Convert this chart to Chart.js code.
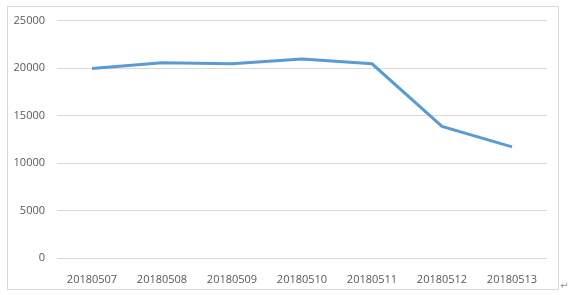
<!DOCTYPE html>
<html>
<head>
<meta charset="utf-8">
<script src="https://cdn.jsdelivr.net/npm/chart.js@4/dist/chart.umd.min.js"></script>
<style>
    html, body { margin: 0; padding: 0; background: #fff; }
    #box {
        position: absolute;
        left: 7px;
        top: 6px;
        width: 550px;
        height: 282px;
        border: 1px solid #d9d9d9;
    }
    #wrap {
        position: absolute;
        left: 8px;
        top: 2px;
        width: 550px;
        height: 286px;
    }
    #mark {
        position: absolute;
        left: 560px;
        top: 280px;
        font: 10px "DejaVu Sans", sans-serif;
        color: #999;
    }
</style>
</head>
<body>
<div id="box"></div>
<div id="wrap"><canvas id="chart"></canvas></div>
<span id="mark">↵</span>
<script>
"use strict";

// Chart data
const dates = ['20180507', '20180508', '20180509', '20180510', '20180511', '20180512', '20180513'];
const counts = [19950, 20550, 20450, 20950, 20450, 13850, 11700];
const yTicks = [0, 5000, 10000, 15000, 20000, 25000];

const textColor = '#595959';
const gridColor = '#d9d9d9';
const font = { family: "'Open Sans', 'Liberation Sans', sans-serif", size: 11 };

new Chart(document.getElementById('chart').getContext('2d'), {
    type: 'line',
    data: {
        labels: dates,
        datasets: [{
            data: counts,
            borderColor: '#5b9bd5',
            borderWidth: 3,
            pointRadius: 0,
            tension: 0,
            fill: false
        }]
    },
    options: {
        responsive: true,
        maintainAspectRatio: false,
        animation: false,
        layout: {
            padding: { top: 0, right: 11, left: 0, bottom: 0 }
        },
        plugins: {
            legend: { display: false },
            tooltip: { enabled: false }
        },
        scales: {
            x: {
                offset: true,
                grid: { display: false, offset: true },
                border: { display: false },
                ticks: { color: textColor, font: font, padding: 7, maxRotation: 0 },
                afterFit: (scale) => { scale.height = 30; }
            },
            y: {
                min: 0,
                max: 25000,
                afterBuildTicks: (scale) => {
                    scale.ticks = yTicks.map(v => ({ value: v }));
                },
                grid: { color: gridColor, drawTicks: false },
                border: { display: false },
                ticks: {
                    color: textColor,
                    font: font,
                    padding: 12,
                    callback: (value) => String(value)
                },
                afterFit: (scale) => { scale.width = 49; }
            }
        }
    }
});
</script>
</body>
</html>
